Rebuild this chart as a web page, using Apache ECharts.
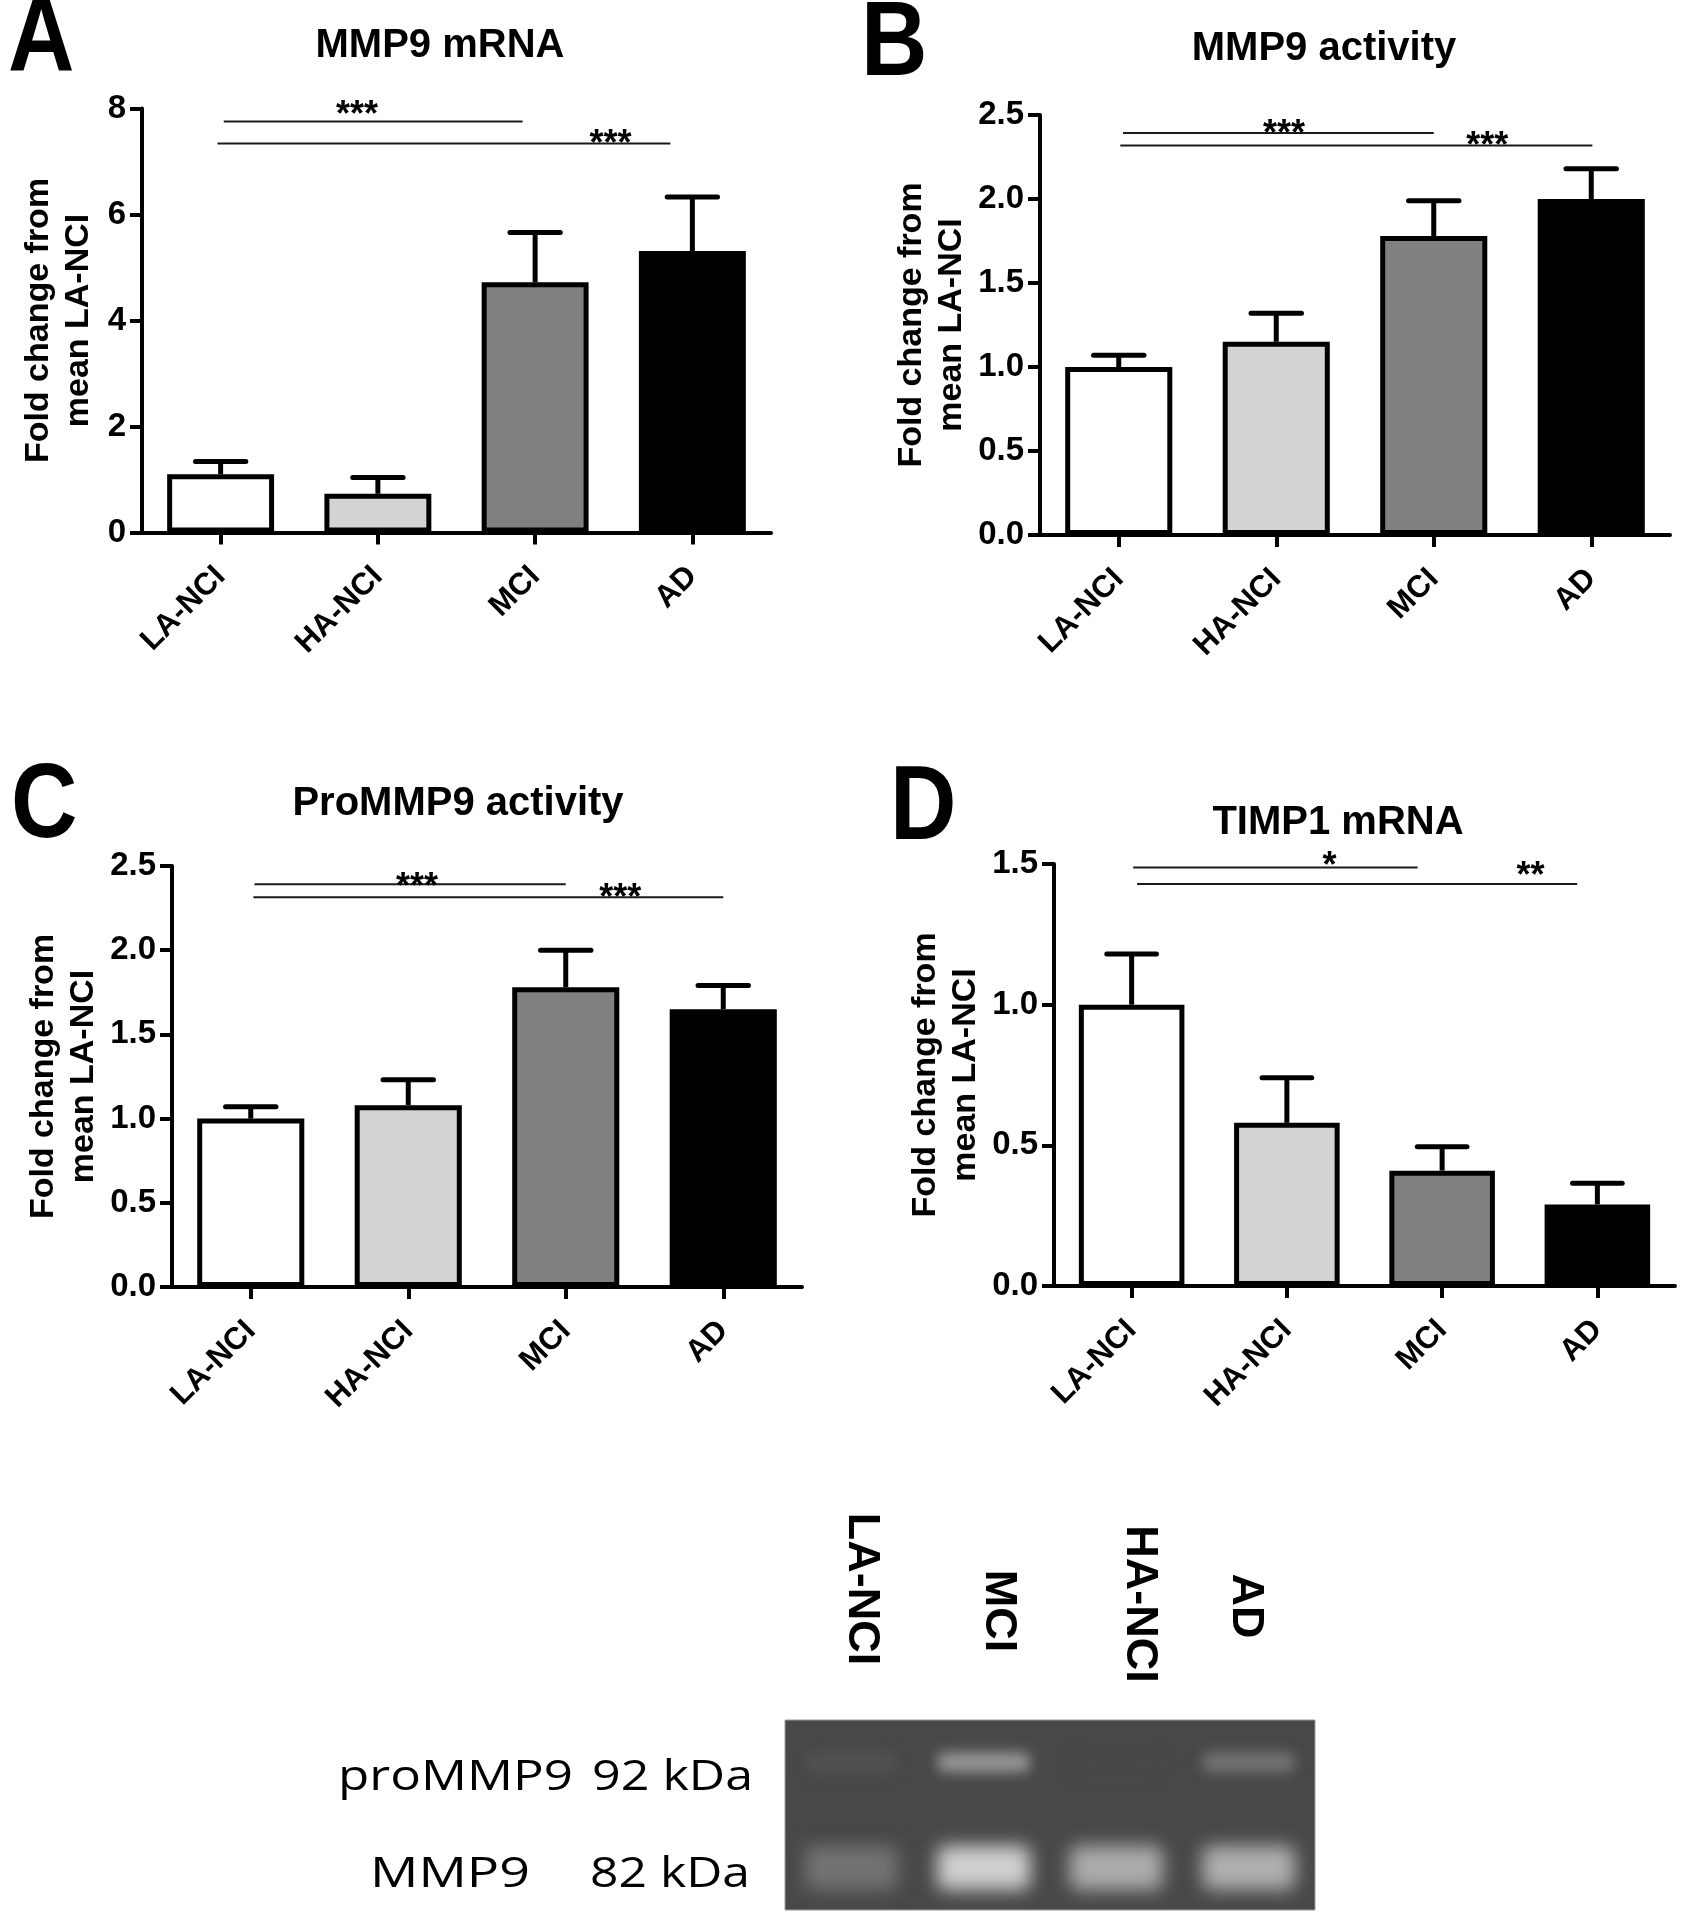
<!DOCTYPE html>
<html><head><meta charset="utf-8">
<script src="https://cdn.jsdelivr.net/npm/echarts@6/dist/echarts.min.js"></script>
<style>html,body{margin:0;padding:0;background:#fff}#c{width:1693px;height:1920px}</style>
</head><body><div id="c"></div>
<script>
// ---------- DATA ----------
const categories = ['LA-NCI', 'HA-NCI', 'MCI', 'AD'];
const barColors = ['#ffffff', '#d3d3d3', '#808080', '#000000'];

const mmp9mRNA = [1.10, 0.73, 4.72, 5.31];
const mmp9mRNAErr = [0.24, 0.31, 0.94, 1.02];
const mmp9Activity = [1.00, 1.15, 1.78, 2.00];
const mmp9ActivityErr = [0.07, 0.17, 0.21, 0.18];
const proMmp9Activity = [1.00, 1.08, 1.78, 1.65];
const proMmp9ActivityErr = [0.07, 0.15, 0.22, 0.14];
const timp1mRNA = [1.00, 0.58, 0.41, 0.29];
const timp1mRNAErr = [0.18, 0.16, 0.085, 0.075];

const yTicksA = [0, 2, 4, 6, 8];
const yTicksB = [0, 0.5, 1.0, 1.5, 2.0, 2.5];
const yTicksC = [0, 0.5, 1.0, 1.5, 2.0, 2.5];
const yTicksD = [0, 0.5, 1.0, 1.5];

// significance bars: [fromCategory, toCategory, yValue]; stars: [text, category, yValue]
const sigLinesA = [[0.02, 1.92, 7.755], [-0.02, 2.86, 7.34]];
const sigStarsA = [['***', 0.867, 8.02], ['***', 2.48, 7.48]];
const sigLinesB = [[0.027, 2.0, 2.393], [0.01, 3.007, 2.318]];
const sigStarsB = [['***', 1.049, 2.435], ['***', 2.34, 2.363]];
const sigLinesC = [[0.024, 2.0, 2.391], [0.017, 3.0, 2.314]];
const sigStarsC = [['***', 1.056, 2.423], ['***', 2.346, 2.358]];
const sigLinesD = [[0.01, 1.842, 1.488], [0.035, 2.87, 1.429]];
const sigStarsD = [['*', 1.275, 1.52], ['**', 2.57, 1.485]];

const panelTitles = ['MMP9 mRNA', 'MMP9 activity', 'ProMMP9 activity', 'TIMP1 mRNA'];
const panelLetters = ['A', 'B', 'C', 'D'];
const yAxisName = 'Fold change from\nmean LA-NCI';

// zymogram gel
const gelLanes = ['LA-NCI', 'MCI', 'HA-NCI', 'AD'];
const gelBandKDa = [92, 82];
const proMMP9Band = [0.07, 0.55, 0.0, 0.31];   // relative band brightness, 92 kDa
const mmp9Band = [0.30, 0.95, 0.70, 0.72];     // relative band brightness, 82 kDa
const gelRowLabels = ['proMMP9', '92 kDa', 'MMP9', '82 kDa'];

// ---------- LAYOUT ----------
const F = '"Liberation Sans", Arial, Helvetica, sans-serif';
const panels = [
  {grid: {left: 142, top: 108.5, width: 629, height: 424}, values: mmp9mRNA, errs: mmp9mRNAErr, ticks: yTicksA, dec: 0, nameGap: 43, lines: sigLinesA, stars: sigStarsA},
  {grid: {left: 1040, top: 115, width: 630, height: 420}, values: mmp9Activity, errs: mmp9ActivityErr, ticks: yTicksB, dec: 1, nameGap: 68, lines: sigLinesB, stars: sigStarsB},
  {grid: {left: 172, top: 866, width: 630, height: 421}, values: proMmp9Activity, errs: proMmp9ActivityErr, ticks: yTicksC, dec: 1, nameGap: 68, lines: sigLinesC, stars: sigStarsC},
  {grid: {left: 1054, top: 864, width: 621, height: 422}, values: timp1mRNA, errs: timp1mRNAErr, ticks: yTicksD, dec: 1, nameGap: 68, lines: sigLinesD, stars: sigStarsD}
];
const titlePos = [[440, 46], [1324, 48.5], [458, 804], [1338, 823]];
const letterPos = [[8, 42], [861, 46], [11, 808], [890, 810]];

const grids = [], xAxes = [], yAxes = [], series = [];
panels.forEach((p, i) => {
  grids.push(Object.assign({containLabel: false}, p.grid));
  const catIdx = xAxes.length;
  xAxes.push({
    type: 'category', gridIndex: i, data: categories,
    axisLine: {show: true, onZero: false, lineStyle: {color: '#000', width: 4}},
    axisTick: {show: true, alignWithLabel: true, length: 12, lineStyle: {color: '#000', width: 4}},
    axisLabel: {rotate: 45, interval: 0, margin: 39, color: '#000', fontSize: 31, fontWeight: 'bold', fontFamily: F},
    splitLine: {show: false}
  });
  const valIdx = xAxes.length;
  xAxes.push({type: 'value', gridIndex: i, min: -0.5, max: 3.5, show: false, axisLine: {onZero: false}});
  const t = p.ticks;
  yAxes.push({
    type: 'value', gridIndex: i, min: t[0], max: t[t.length - 1], interval: t[1] - t[0],
    axisLine: {show: true, onZero: false, lineStyle: {color: '#000', width: 4}},
    axisTick: {show: true, length: 12, lineStyle: {color: '#000', width: 4}},
    splitLine: {show: false},
    axisLabel: {color: '#000', fontSize: 33, fontWeight: 'bold', fontFamily: F, margin: 16,
      formatter: v => Number(v).toFixed(p.dec)},
    name: yAxisName, nameLocation: 'middle', nameGap: p.nameGap,
    nameTextStyle: {fontSize: 34, fontWeight: 'bold', lineHeight: 40, color: '#000', fontFamily: F}
  });
  series.push({
    type: 'bar', xAxisIndex: catIdx, yAxisIndex: i, barWidth: '68%', z: 3,
    itemStyle: {borderColor: '#000', borderWidth: 5},
    data: p.values.map((v, k) => ({value: v, itemStyle: {color: barColors[k]}}))
  });
  series.push({
    type: 'custom', xAxisIndex: catIdx, yAxisIndex: i, z: 4,
    data: p.values.map((v, k) => [k, v, p.errs[k]]),
    renderItem: (params, api) => {
      const base = api.coord([api.value(0), api.value(1)]);
      const top = api.coord([api.value(0), api.value(1) + api.value(2)]);
      const half = api.size([1, 0])[0] * 0.16;
      return {type: 'group', children: [
        {type: 'line', shape: {x1: base[0], y1: base[1], x2: top[0], y2: top[1]}, style: {stroke: '#000', lineWidth: 5}},
        {type: 'line', shape: {x1: top[0] - half, y1: top[1], x2: top[0] + half, y2: top[1]}, style: {stroke: '#000', lineWidth: 5, lineCap: 'round'}}
      ]};
    }
  });
  series.push({
    type: 'custom', xAxisIndex: valIdx, yAxisIndex: i, z: 5, clip: false,
    data: p.lines.map(l => [l[0], l[2]]),
    renderItem: (params, api) => {
      const l = p.lines[params.dataIndex];
      const a = api.coord([l[0], l[2]]), b = api.coord([l[1], l[2]]);
      return {type: 'line', shape: {x1: a[0], y1: a[1], x2: b[0], y2: b[1]}, style: {stroke: '#1a1a1a', lineWidth: 2}};
    }
  });
  series.push({
    type: 'custom', xAxisIndex: valIdx, yAxisIndex: i, z: 6, clip: false,
    data: p.stars.map(s => [s[1], s[2]]),
    renderItem: (params, api) => {
      const s = p.stars[params.dataIndex];
      const c = api.coord([s[1], s[2]]);
      const fs = 36;
      return {type: 'text', x: c[0], y: c[1] + 0.245 * fs, style: {text: s[0], fill: '#000',
        font: 'bold ' + fs + 'px ' + F, align: 'center', verticalAlign: 'middle', textAlign: 'center', textVerticalAlign: 'middle'}};
    }
  });
});

// gel grid
const gelGrid = grids.length;
grids.push({left: 785, top: 1720, width: 530, height: 190, show: true, backgroundColor: '#484848', borderColor: '#9a9a9a', borderWidth: 1});
const gelX = xAxes.length;
xAxes.push({
  type: 'category', gridIndex: gelGrid, data: gelLanes, position: 'top',
  axisLine: {show: false}, axisTick: {show: false}, splitLine: {show: false}, axisLabel: {show: false}
});
const gelY = yAxes.length;
yAxes.push({type: 'value', gridIndex: gelGrid, min: 78, max: 96, show: false});
const gelData = [];
gelLanes.forEach((l, i) => {
  gelData.push([i, gelBandKDa[0], proMMP9Band[i]]);
  gelData.push([i, gelBandKDa[1], mmp9Band[i]]);
});
series.push({
  type: 'custom', xAxisIndex: gelX, yAxisIndex: gelY, z: 2, clip: false,
  data: gelData,
  renderItem: (params, api) => {
    const c = api.coord([api.value(0), api.value(1)]);
    const inten = api.value(2);
    const laneW = api.size([1, 0])[0];
    const big = api.value(1) < 87;
    const h = big ? 44 : 20;
    const w = laneW * 0.7;
    const g = Math.round(72 + inten * (215 - 72));
    const col = 'rgb(' + g + ',' + g + ',' + g + ')';
    const OFF = 4000;
    return {type: 'rect', shape: {x: c[0] - w / 2 - OFF, y: c[1] - h / 2, width: w, height: h, r: 8},
      style: {fill: col, shadowBlur: big ? 18 : 13, shadowColor: col, shadowOffsetX: OFF}};
  }
});

// ---------- TEXT (titles, letters, gel labels) ----------
const graphics = [];
panelTitles.forEach((t, i) => {
  graphics.push({type: 'text', x: titlePos[i][0], y: titlePos[i][1], style: {text: t, font: 'bold 40px ' + F, fill: '#000',
    align: 'center', verticalAlign: 'middle', textAlign: 'center', textVerticalAlign: 'middle'}});
  graphics.push({type: 'text', x: letterPos[i][0], y: letterPos[i][1], scaleY: 1.15, style: {text: panelLetters[i], font: 'bold 92px ' + F, fill: '#000',
    align: 'left', verticalAlign: 'middle', textAlign: 'left', textVerticalAlign: 'middle'}});
});
// gel lane labels (rotated, reading top to bottom)
const laneLabelPos = [[861, 1589], [998, 1611], [1139, 1604], [1245, 1606]];
gelLanes.forEach((l, i) => {
  graphics.push({type: 'text', x: laneLabelPos[i][0], y: laneLabelPos[i][1], rotation: -Math.PI / 2,
    style: {text: l, font: 'bold 45px ' + F, fill: '#000', align: 'center', verticalAlign: 'middle', textAlign: 'center', textVerticalAlign: 'middle'}});
});
const ctx = document.createElement('canvas').getContext('2d');
const rowFont = '40px "Open Sans", "Noto Sans", sans-serif';
ctx.font = rowFont;
const rowPos = [[338, 1778, 235], [592, 1778, 161], [370, 1875, 160], [590, 1875, 160]];
gelRowLabels.forEach((txt, k) => {
  const r = rowPos[k];
  const sx = r[2] / ctx.measureText(txt).width;
  graphics.push({type: 'text', x: r[0], y: r[1], scaleX: sx, scaleY: 1.05, style: {text: txt, font: rowFont, fill: '#000',
    align: 'left', verticalAlign: 'middle', textAlign: 'left', textVerticalAlign: 'middle'}});
});

const chart = echarts.init(document.getElementById('c'), null, {renderer: 'canvas'});
chart.setOption({
  animation: false,
  backgroundColor: '#ffffff',
  grid: grids, xAxis: xAxes, yAxis: yAxes, series: series,
  graphic: {elements: graphics}
});
</script>
</body></html>
